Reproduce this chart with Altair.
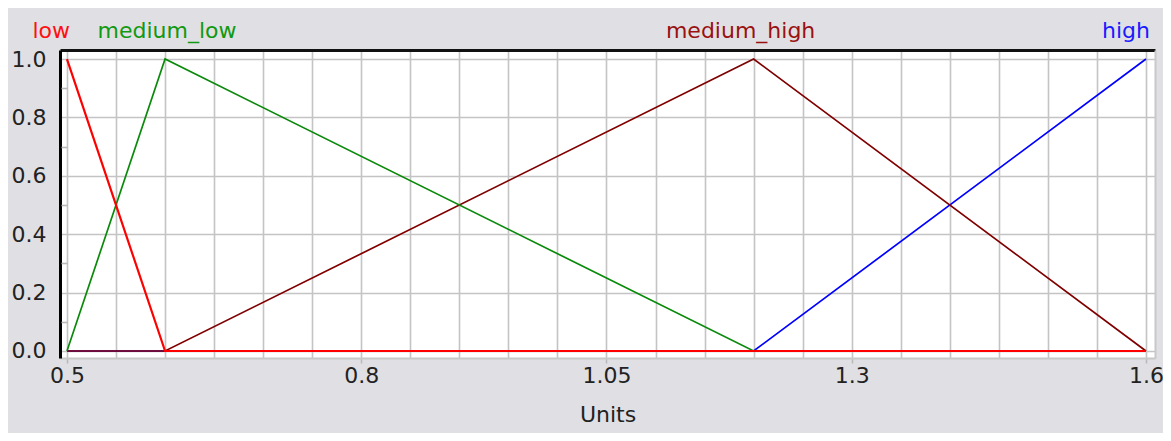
import altair as alt
import pandas as pd

# ---- data ----
terms = ["low", "medium_low", "medium_high", "high"]
line_colors = ["#ff0000", "#0a8a0a", "#800000", "#0000ff"]
text_colors = ["#ff1010", "#119911", "#991111", "#1a1aff"]

low_x = [0.5, 0.6, 1.6]
low_y = [1.0, 0.0, 0.0]
medium_low_x = [0.5, 0.6, 1.2, 1.6]
medium_low_y = [0.0, 1.0, 0.0, 0.0]
medium_high_x = [0.5, 0.6, 1.2, 1.6]
medium_high_y = [0.0, 0.0, 1.0, 0.0]
high_x = [0.5, 1.2, 1.6]
high_y = [0.0, 0.0, 1.0]

peaks = [0.5, 0.6, 1.2, 1.6]

x_tick_labels = ["0.5", "0.8", "1.05", "1.3", "1.6"]
x_grid_values = [0.5, 0.55, 0.6, 0.65, 0.7, 0.75, 0.8, 0.85, 0.9, 0.95, 1.0,
                 1.05, 1.1, 1.15, 1.2, 1.25, 1.3, 1.35, 1.4, 1.45, 1.5, 1.55, 1.6]
y_tick_values = [0.0, 0.2, 0.4, 0.6, 0.8, 1.0]
y_minor_values = [0.1, 0.3, 0.5, 0.7, 0.9]
x_title = "Units"

# ---- tables ----
series = {
    "low": (low_x, low_y),
    "medium_low": (medium_low_x, medium_low_y),
    "medium_high": (medium_high_x, medium_high_y),
    "high": (high_x, high_y),
}
rows = []
for t in terms:
    xs, ys = series[t]
    for i, (a, b) in enumerate(zip(xs, ys)):
        rows.append({"term": t, "x": a, "y": b, "i": i})
df = pd.DataFrame(rows)
lab_df = pd.DataFrame({"term": terms, "peak": peaks, "color": text_colors})

FONT = "DejaVu Sans"
W, H = 1095, 308
x_scale = alt.Scale(domain=[0.4929, 1.6092], nice=False, zero=False)
y_scale = alt.Scale(domain=[-0.024, 1.031], nice=False, zero=False)

shown = [float(v) for v in x_tick_labels]
test = " || ".join(f"abs(datum.value - {v}) < 1e-6" for v in shown)
label_expr = " : ".join(
    f"abs(datum.value - {v}) < 1e-6 ? '{s}'" for v, s in zip(shown, x_tick_labels)
) + " : ''"

layers = []

# axis layer: bottom x (grid, labels, title) and left y (grid, labels, black domain)
axis_main = alt.Chart(df).mark_point(opacity=0).encode(
    x=alt.X("x:Q", scale=x_scale, title=x_title, axis=alt.Axis(
        orient="bottom", values=x_grid_values, labelExpr=label_expr,
        grid=True, gridColor="#c4c4c4", gridWidth=1.6,
        domainColor="#c8c8c8", domainWidth=2,
        tickColor="#b8b8b8", tickSize=5, tickWidth=1.5,
        tickOpacity={"condition": {"test": test, "value": 1}, "value": 0},
        labelFont=FONT, labelFontSize=22, labelColor="#222222", labelPadding=2,
        labelFlush=False, labelOverlap=False,
        titleFont=FONT, titleFontSize=22, titleFontWeight="normal",
        titleColor="#222222", titlePadding=18)),
    y=alt.Y("y:Q", scale=y_scale, title=None, axis=alt.Axis(
        orient="left", values=y_tick_values, format=".1f",
        grid=True, gridColor="#c4c4c4", gridWidth=1.6,
        domainColor="#000000", domainWidth=3, ticks=False,
        labelFont=FONT, labelFontSize=22, labelColor="#222222", labelPadding=14,
        labelFlush=False, labelOverlap=False)),
)
layers.append(axis_main)

# frame layer: top black border, right light border
axis_frame = alt.Chart(df).mark_point(opacity=0).encode(
    x=alt.X("x:Q", scale=x_scale, title=None, axis=alt.Axis(
        orient="top", labels=False, ticks=False, grid=False,
        domainColor="#111111", domainWidth=3)),
    y=alt.Y("y:Q", scale=y_scale, title=None, axis=alt.Axis(
        orient="right", labels=False, ticks=False, grid=False,
        domainColor="#c8c8c8", domainWidth=2)),
)
layers.append(axis_frame)

# minor inner ticks on the left
axis_minor = alt.Chart(df).mark_point(opacity=0).encode(
    x=alt.X("x:Q", scale=x_scale, axis=None),
    y=alt.Y("y:Q", scale=y_scale, title=None, axis=alt.Axis(
        orient="left", values=y_minor_values, labels=False, grid=False,
        domain=False, offset=-7, tickSize=6, tickColor="#b8b8b8", tickWidth=1.6)),
)
layers.append(axis_minor)

# membership lines (drawn so that low ends on top)
widths = {"high": 1.7, "medium_high": 1.7, "medium_low": 1.7, "low": 2.2}
for t in ["high", "medium_high", "medium_low", "low"]:
    c = line_colors[terms.index(t)]
    layers.append(
        alt.Chart(df[df.term == t]).mark_line(color=c, strokeWidth=widths[t]).encode(
            x=alt.X("x:Q", scale=x_scale, axis=None),
            y=alt.Y("y:Q", scale=y_scale, axis=None),
            order="i:Q",
        )
    )

# term names above the plot
placement = {"low": ("right", 3), "medium_low": ("center", 2),
             "medium_high": ("center", -13), "high": ("right", 4)}
for t in terms:
    al, dx = placement[t]
    c = text_colors[terms.index(t)]
    layers.append(
        alt.Chart(lab_df[lab_df.term == t]).mark_text(
            font=FONT, fontSize=22, align=al, dx=dx, baseline="alphabetic", color=c
        ).encode(
            x=alt.X("peak:Q", scale=x_scale, axis=None),
            y=alt.value(-12),
            text="term:N",
        )
    )

chart = alt.layer(*layers).resolve_axis(x="independent", y="independent").properties(
    width=W, height=H,
    autosize=alt.AutoSizeParams(type="none"),
    padding={"left": 52, "top": 42, "right": 8, "bottom": 75},
    background="#e0dfe3",
).configure_view(fill="#ffffff", stroke=None)

chart.save("out.html", embed_options={"renderer": "svg", "actions": False})
